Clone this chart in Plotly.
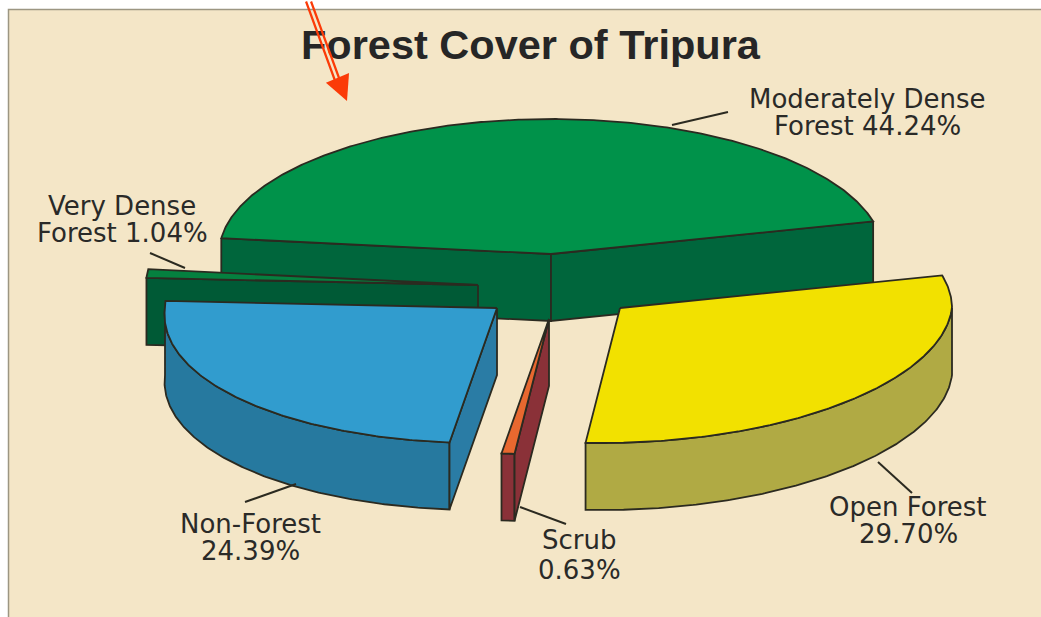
import math
import plotly.graph_objects as go

# --- data ---
slice_names = ["Open Forest", "Scrub", "Non-Forest", "Very Dense Forest", "Moderately Dense Forest"]
slice_values = [29.70, 0.63, 24.39, 1.04, 44.24]
label_line_1 = ["Open Forest", "Scrub", "Non-Forest", "Very Dense", "Moderately Dense"]
label_line_2 = ["{:.2f}%", "{:.2f}%", "{:.2f}%", "Forest {:.2f}%", "Forest {:.2f}%"]
title_text = "Forest Cover of Tripura"

# --- styling / projection (pixel-like axes) ---
top_colors = ["#f2e100", "#e8682f", "#319cce", "#05803f", "#00924a"]
arc_colors = ["#b0aa44", "#8a3138", "#26799f", "#005a36", "#00663c"]
face_colors = [None, "#8a3138", "#2a7ca5", "#005a36", "#00663c"]
explode_centres = [(620, 308), (549, 319), (497, 308), (478, 285), (551, 254)]
label_xy = [(908, 507), (579, 540), (250, 524), (122, 206), (867, 99)]
label_gap = [27, 30, 27, 27, 27]
leaders = [((878, 462), (912, 493)), ((520, 507), (566, 524)), ((245, 502), (296, 484)),
           ((150, 253), (185, 268)), ((672, 125), (728, 112))]
RX, RY, DEPTH, SHEAR, START = 332, 135, 67, 0.13, 14.0
INK = "#2b2a20"
PAPER = "#f4e6c7"


def project(c, deg):
    t = math.radians(deg)
    x, y = RX * math.cos(t), -RY * math.sin(t)
    if y > 0:
        x -= SHEAR * y
    return c[0] + x, c[1] + y


def arc(c, a0, a1):
    n = max(2, int(abs(a1 - a0)) * 2)
    return [project(c, a0 + (a1 - a0) * i / n) for i in range(n + 1)]


def poly(fig, pts, color):
    xs = [p[0] for p in pts] + [pts[0][0]]
    ys = [p[1] for p in pts] + [pts[0][1]]
    fig.add_trace(go.Scatter(x=xs, y=ys, mode="lines", fill="toself", fillcolor=color,
                             line=dict(color=INK, width=1.8), hoverinfo="skip", showlegend=False))


def down(pts):
    return [(x, y + DEPTH) for x, y in pts]


fig = go.Figure()

# angular extents (clockwise from START)
extents = []
a = START
for v in slice_values:
    extents.append((a, a - v * 3.6))
    a -= v * 3.6

# 4 = moderately dense, 3 = very dense, 0 = open, 1 = scrub, 2 = non-forest (back to front)
for i in [4, 3, 0, 1, 2]:
    c = explode_centres[i]
    a0, a1 = extents[i]
    rim = arc(c, a0, a1)
    if i == 4:
        l = rim[0]
        r = rim[-1]
        poly(fig, [l, c, (c[0], c[1] + DEPTH), (l[0], l[1] + DEPTH)], arc_colors[i])
        poly(fig, [r, c, (c[0], c[1] + DEPTH), (r[0], r[1] + DEPTH)], arc_colors[i])
    else:
        # only the front half of the rim has a visible outer wall
        f0, f1 = min(a0, 0), max(a1, -180)
        if f0 > f1:
            front = arc(c, f0, f1)
            poly(fig, front + down(front)[::-1], arc_colors[i])
        if face_colors[i]:
            s = rim[0]
            poly(fig, [c, s, (s[0], s[1] + DEPTH), (c[0], c[1] + DEPTH)], face_colors[i])
    poly(fig, [c] + rim, top_colors[i])

annotations = []
for i, (x, y) in enumerate(label_xy):
    for line, yy in ((label_line_1[i], y), (label_line_2[i].format(slice_values[i]), y + label_gap[i])):
        annotations.append(dict(x=x, y=yy, xref="x", yref="y", text=line, showarrow=False,
                                font=dict(family="DejaVu Sans", size=26, color="#2a2a28"),
                                xanchor="center", yanchor="middle"))

annotations.append(dict(x=531, y=44, xref="x", yref="y", text="<b>%s</b>" % title_text, showarrow=False,
                        font=dict(family="Liberation Sans", size=41.5, color="#262626"),
                        xanchor="center", yanchor="middle"))

# red double arrow, above the title
ARROW = "#fb3b08"
for x0, x1 in ((305.5, 335.5), (310.5, 340.5)):
    annotations.append(dict(x=x1, y=82, ax=x0, ay=0, xref="x", yref="y", axref="x", ayref="y", text="",
                            showarrow=True, arrowhead=0, arrowwidth=2.2, arrowcolor=ARROW))
annotations.append(dict(x=347, y=101, ax=340, ay=84, xref="x", yref="y", axref="x", ayref="y", text="",
                        showarrow=True, arrowhead=2, arrowwidth=4, arrowsize=1.25, arrowcolor=ARROW,
                        standoff=0))

shapes = [dict(type="rect", xref="x", yref="y", x0=8.5, y0=9.5, x1=1060, y1=640, layer="below",
               fillcolor=PAPER, line=dict(color="#9c9682", width=1.5))]
for (p0, p1) in leaders:
    shapes.append(dict(type="line", xref="x", yref="y", x0=p0[0], y0=p0[1], x1=p1[0], y1=p1[1],
                       layer="above", line=dict(color=INK, width=2)))

fig.update_layout(
    width=1041, height=617, autosize=False,
    margin=dict(l=0, r=0, t=0, b=0),
    paper_bgcolor="white", plot_bgcolor="white",
    xaxis=dict(range=[0, 1041], visible=False, fixedrange=True),
    yaxis=dict(range=[617, 0], visible=False, fixedrange=True),
    shapes=shapes, annotations=annotations, showlegend=False,
)
fig.write_html("out.html", config=dict(displayModeBar=False),
               post_script="document.body.style.margin='0';document.body.style.overflow='hidden';")
